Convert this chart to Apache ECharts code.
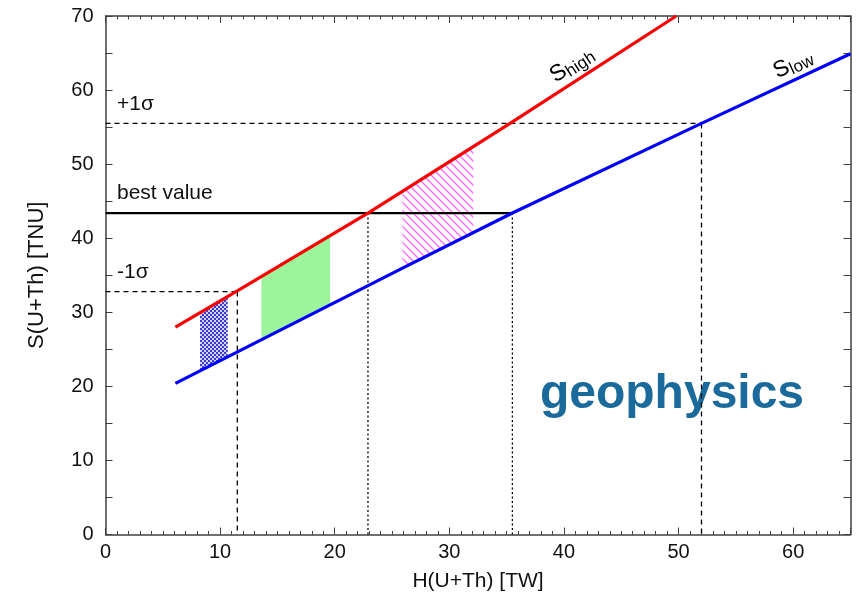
<!DOCTYPE html>
<html>
<head>
<meta charset="utf-8">
<script src="https://cdn.jsdelivr.net/npm/echarts@6/dist/echarts.min.js"></script>
<style>
  html, body { margin: 0; padding: 0; background: #fff; }
  #chart { width: 861px; height: 601px; }
</style>
</head>
<body>
<div id="chart"></div>
<script>
// Upper and lower bounds of the signal as a function of heat: [H (TW), S (TNU)]
const sHigh = [[6.1, 28.0], [11.5, 32.9], [22.9, 43.4], [35.3, 55.5], [49.8, 70.0]];
const sLow  = [[6.1, 20.4], [25.7, 35.8], [35.5, 43.4], [52.0, 55.5], [65.0, 64.9]];

// Measured signal and its one-sigma band
const bestValue  = 43.4;
const plusSigma  = 55.5;
const minusSigma = 32.8;

// Heat values where the signal levels meet the bounds
const minusHighX = 11.5;
const bestHighX  = 22.9;
const bestLowX   = 35.5;
const plusLowX   = 52.0;

// Heat intervals of the three model classes: [H from, H to]
const shadeRanges = [[8.25, 10.66], [13.6, 19.6], [25.9, 32.1]];

// Axis tick labels
const xTickLabels = [0, 10, 20, 30, 40, 50, 60];
const yTickLabels = [0, 10, 20, 30, 40, 50, 60, 70];

function interp(pts, x) {
  for (let i = 0; i < pts.length - 1; i++) {
    const a = pts[i], b = pts[i + 1];
    if (x >= a[0] && x <= b[0]) {
      return a[1] + (b[1] - a[1]) * (x - a[0]) / (b[0] - a[0]);
    }
  }
  return x < pts[0][0] ? pts[0][1] : pts[pts.length - 1][1];
}

// Fill patterns
function checkerPattern() {
  const c = document.createElement('canvas');
  c.width = 4; c.height = 4;
  const g = c.getContext('2d');
  g.fillStyle = '#d2d2f4';
  g.fillRect(0, 0, 4, 4);
  g.fillStyle = '#3a3acc';
  g.fillRect(0, 0, 2, 2);
  g.fillRect(2, 2, 2, 2);
  return { image: c, repeat: 'repeat' };
}
function hatchPattern() {
  const s = 8;
  const c = document.createElement('canvas');
  c.width = s; c.height = s;
  const g = c.getContext('2d');
  g.strokeStyle = '#ff66ff';
  g.lineWidth = 1.3;
  g.beginPath();
  g.moveTo(-1, -1); g.lineTo(s + 1, s + 1);
  g.moveTo(-1, s - 1); g.lineTo(1, s + 1);
  g.moveTo(s - 1, -1); g.lineTo(s + 1, 1);
  g.stroke();
  return { image: c, repeat: 'repeat' };
}
const shadeFills = [checkerPattern(), '#9cf59c', hatchPattern()];

const frameColor = '#404040';
const txtFont = 'Liberation Sans, Arial, Helvetica, sans-serif';

const chart = echarts.init(document.getElementById('chart'), null, { renderer: 'canvas' });

function refLine(name, data, dash) {
  return {
    name, type: 'line', data, symbol: 'none', silent: true, z: 3,
    lineStyle: { color: '#000', width: 1.3, type: dash }
  };
}

function frameAxis(extra) {
  return Object.assign({
    type: 'value',
    axisLine: { onZero: false, lineStyle: { color: frameColor, width: 1.5 } },
    axisTick: { inside: true, length: 7, lineStyle: { color: frameColor } },
    axisLabel: { show: false },
    splitLine: { show: false }
  }, extra);
}

const option = {
  animation: false,
  backgroundColor: '#fff',
  grid: { left: 105.5, right: 10.5, top: 16, bottom: 66.5 },
  xAxis: [
    frameAxis({
      min: 0, max: 65, interval: 10, position: 'bottom',
      name: 'H(U+Th) [TW]', nameLocation: 'middle', nameGap: 36,
      nameTextStyle: { fontSize: 21, color: '#111', fontFamily: txtFont },
      minorTick: { show: true, splitNumber: 10, length: 3.5, lineStyle: { color: frameColor } },
      axisLabel: {
        show: true, fontSize: 20, color: '#111', margin: 8, fontFamily: txtFont,
        formatter: v => (xTickLabels.includes(v) ? String(v) : '')
      }
    }),
    frameAxis({
      min: 0, max: 65, interval: 10, position: 'top',
      minorTick: { show: true, splitNumber: 10, length: 3.5, lineStyle: { color: frameColor } }
    })
  ],
  yAxis: [
    frameAxis({
      min: 0, max: 70, interval: 10, position: 'left',
      name: 'S(U+Th) [TNU]', nameLocation: 'middle', nameGap: 58,
      nameTextStyle: { fontSize: 22, color: '#111', fontFamily: txtFont },
      minorTick: { show: true, splitNumber: 2, length: 7, lineStyle: { color: frameColor } },
      axisLabel: {
        show: true, fontSize: 20, color: '#111', margin: 12, fontFamily: txtFont,
        formatter: v => (yTickLabels.includes(v) ? String(v) : '')
      }
    }),
    frameAxis({
      min: 0, max: 70, interval: 10, position: 'right',
      minorTick: { show: true, splitNumber: 2, length: 7, lineStyle: { color: frameColor } }
    })
  ],
  series: [
    {
      name: 'classes', type: 'custom', z: 1, silent: true,
      data: shadeRanges,
      encode: { x: [0, 1] },
      renderItem: (params, api) => {
        const x0 = api.value(0), x1 = api.value(1);
        const xs = [x0];
        sHigh.concat(sLow).forEach(p => { if (p[0] > x0 && p[0] < x1) xs.push(p[0]); });
        xs.push(x1);
        xs.sort((a, b) => a - b);
        const pts = [];
        xs.forEach(x => pts.push(api.coord([x, interp(sHigh, x)])));
        xs.slice().reverse().forEach(x => pts.push(api.coord([x, interp(sLow, x)])));
        return {
          type: 'polygon',
          shape: { points: pts },
          style: { fill: shadeFills[params.dataIndex], stroke: null }
        };
      }
    },
    refLine('+1σ', [[0, plusSigma], [plusLowX, plusSigma]], [5, 4]),
    refLine('+1σ drop', [[plusLowX, plusSigma], [plusLowX, 0]], [5, 4]),
    refLine('-1σ', [[0, minusSigma], [minusHighX, minusSigma]], [5, 4]),
    refLine('-1σ drop', [[minusHighX, minusSigma], [minusHighX, 0]], [5, 4]),
    refLine('best high drop', [[bestHighX, bestValue], [bestHighX, 0]], [2, 2.5]),
    refLine('best low drop', [[bestLowX, bestValue], [bestLowX, 0]], [2, 2.5]),
    {
      name: 'best value', type: 'line', symbol: 'none', silent: true, z: 4,
      data: [[0, bestValue], [bestLowX, bestValue]],
      lineStyle: { color: '#000', width: 2.2 }
    },
    {
      name: 'S_high', type: 'line', symbol: 'none', silent: true, z: 5,
      data: sHigh, lineStyle: { color: '#ff0000', width: 3.2 }
    },
    {
      name: 'S_low', type: 'line', symbol: 'none', silent: true, z: 5,
      data: sLow, lineStyle: { color: '#0000ff', width: 3.2 }
    }
  ]
};
chart.setOption(option);

// Annotations anchored in data coordinates
function px(x, y) { return chart.convertToPixel({ xAxisIndex: 0, yAxisIndex: 0 }, [x, y]); }
function slopeAngle(pts, x) {
  const a = px(x - 1, interp(pts, x - 1)), b = px(x + 1, interp(pts, x + 1));
  return Math.atan2(a[1] - b[1], b[0] - a[0]);
}
const plainText = { fontSize: 21, fill: '#111', fontFamily: txtFont };
const pPlus = px(1, plusSigma + 1.2);
const pBest = px(1, bestValue + 1.2);
const pMinus = px(1, minusSigma + 1.2);
const pHigh = px(40.7, 63.4);
const pLow = px(60.0, 63.5);
const subRich = {
  s: { fontSize: 23, fontFamily: txtFont, color: '#111' },
  sub: { fontSize: 17, fontFamily: txtFont, color: '#111', padding: [9, 0, 0, 0] }
};
chart.setOption({
  graphic: [
    { type: 'text', x: pPlus[0], y: pPlus[1], style: Object.assign({ text: '+1σ', textVerticalAlign: 'bottom' }, plainText) },
    { type: 'text', x: pBest[0], y: pBest[1], style: Object.assign({ text: 'best value', textVerticalAlign: 'bottom' }, plainText) },
    { type: 'text', x: pMinus[0], y: pMinus[1], style: Object.assign({ text: '-1σ', textVerticalAlign: 'bottom' }, plainText) },
    {
      type: 'text', x: pHigh[0], y: pHigh[1], rotation: slopeAngle(sHigh, 40.7),
      style: { text: '{s|S}{sub|high}', rich: subRich, align: 'center', verticalAlign: 'middle' }
    },
    {
      type: 'text', x: pLow[0], y: pLow[1], rotation: slopeAngle(sLow, 60.0),
      style: { text: '{s|S}{sub|low}', rich: subRich, align: 'center', verticalAlign: 'middle' }
    },
    {
      type: 'text', x: 672, y: 395,
      style: {
        text: 'geophysics', align: 'center', verticalAlign: 'middle',
        fontSize: 48, fontWeight: 'bold', fontFamily: txtFont, fill: '#1b6a9c'
      }
    }
  ]
});
</script>
</body>
</html>
